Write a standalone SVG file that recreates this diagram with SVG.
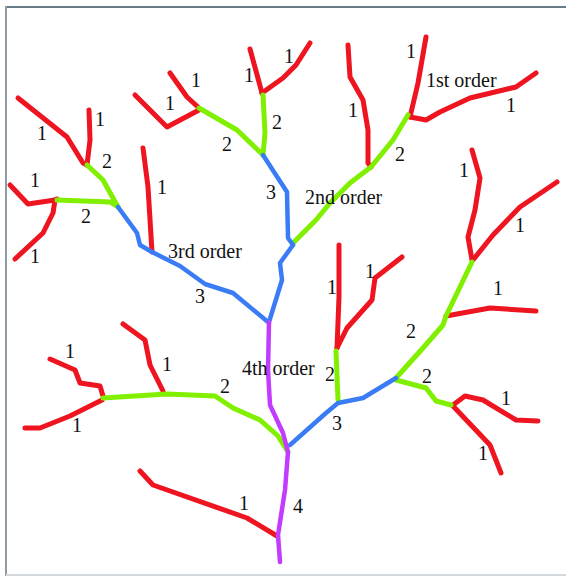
<svg xmlns="http://www.w3.org/2000/svg" width="566" height="576" viewBox="0 0 566 576">
<style>
.s{fill:none;stroke-linecap:round;stroke-linejoin:round}
.o1{stroke:#ee1520;stroke-width:5}
.o2{stroke:#80f000;stroke-width:5}
.o3{stroke:#3a7cf6;stroke-width:4.5}
.o4{stroke:#c23cff;stroke-width:4.5}
text{font-family:"Liberation Serif","Times New Roman",serif;font-size:20px;fill:#111}
.n{text-anchor:middle}
</style>
<rect width="566" height="576" fill="#ffffff"/>
<g id="frame">
<line x1="5" y1="7" x2="566" y2="7" stroke="#687c86" stroke-width="2"/>
<line x1="6" y1="6" x2="6" y2="576" stroke="#8d9ca4" stroke-width="2"/>
<line x1="6" y1="575" x2="566" y2="575" stroke="#d3d9dc" stroke-width="2"/>
</g>
<g id="order1" class="s o1">
<polyline points="18,98 67,137 83,163 87,165"/>
<polyline points="89,110 90,140 87,165"/>
<polyline points="10,185 28,204 55,200 57,199"/>
<polyline points="55,200 53,213 43,233 15,259"/>
<polyline points="143,148 148,187 152,252"/>
<polyline points="170,73 187,97 199,108"/>
<polyline points="135,95 167,127 199,110"/>
<polyline points="250,49 262,93"/>
<polyline points="262,93 283,78 296,65 310,43"/>
<polyline points="348,45 350,77 363,100 368,130 368,163 371,167"/>
<polyline points="426,37 418,83 410,117"/>
<polyline points="410,117 426,120 440,112 470,98 516,87 536,73"/>
<polyline points="472,150 480,178 475,210 468,237 472,260"/>
<polyline points="557,182 520,207 493,235 473,260"/>
<polyline points="446,316 490,308 536,311"/>
<polyline points="453,405 465,396 483,400 516,420 538,421"/>
<polyline points="453,406 490,445 501,473"/>
<polyline points="339,245 339,297 337,348"/>
<polyline points="402,257 375,278 372,300 347,328 337,348"/>
<polyline points="50,359 75,370 80,383 100,386 103,396"/>
<polyline points="25,428 40,428 70,416 102,400"/>
<polyline points="123,324 145,340 150,365 163,391"/>
<polyline points="140,471 153,485 247,518 277,536"/>
</g>
<g id="order2" class="s o2">
<polyline points="87,165 103,180 118,207"/>
<polyline points="57,200 110,202 118,207"/>
<polyline points="199,108 237,130 263,155"/>
<polyline points="263,95 265,133 263,155"/>
<polyline points="408,115 393,140 371,167 350,183 330,203 316,220 293,243"/>
<polyline points="472,262 446,316 443,325 423,348 396,378"/>
<polyline points="396,380 426,388 436,401 451,405"/>
<polyline points="336,351 338,400"/>
<polyline points="103,398 167,394 215,396 233,408 260,420 278,436 288,452"/>
</g>
<g id="order3" class="s o3">
<polyline points="118,207 137,233 140,245 152,252 180,266 205,284 233,293 268,322"/>
<polyline points="263,155 287,192 288,238 293,245"/>
<polyline points="293,245 280,263 282,280 269,322"/>
<polyline points="396,378 363,398 338,403 326,413 290,445"/>
</g>
<g id="order4" class="s o4">
<polyline points="269,322 268,370 270,405 283,433 288,452 285,490 278,535 280,562"/>
</g>
<g id="labels">
<text x="426" y="87">1st order</text>
<text x="305" y="204">2nd order</text>
<text x="168" y="258">3rd order</text>
<text x="242" y="375">4th order</text>
<g class="n">
<text x="42" y="140">1</text>
<text x="100" y="126">1</text>
<text x="107" y="168">2</text>
<text x="35" y="187">1</text>
<text x="86" y="223">2</text>
<text x="35" y="263">1</text>
<text x="162" y="194">1</text>
<text x="170" y="110">1</text>
<text x="196" y="87">1</text>
<text x="227" y="151">2</text>
<text x="249" y="82">1</text>
<text x="277" y="129">2</text>
<text x="271" y="199">3</text>
<text x="289" y="63">1</text>
<text x="411" y="58">1</text>
<text x="353" y="117">1</text>
<text x="400" y="161">2</text>
<text x="511" y="112">1</text>
<text x="464" y="177">1</text>
<text x="520" y="232">1</text>
<text x="370" y="278">1</text>
<text x="332" y="294">1</text>
<text x="498" y="295">1</text>
<text x="330" y="381">2</text>
<text x="411" y="338">2</text>
<text x="427" y="383">2</text>
<text x="337" y="430">3</text>
<text x="506" y="405">1</text>
<text x="483" y="460">1</text>
<text x="298" y="513">4</text>
<text x="70" y="358">1</text>
<text x="167" y="371">1</text>
<text x="225" y="393">2</text>
<text x="77" y="432">1</text>
<text x="244" y="510">1</text>
<text x="200" y="303">3</text>
</g>
</g>
</svg>
